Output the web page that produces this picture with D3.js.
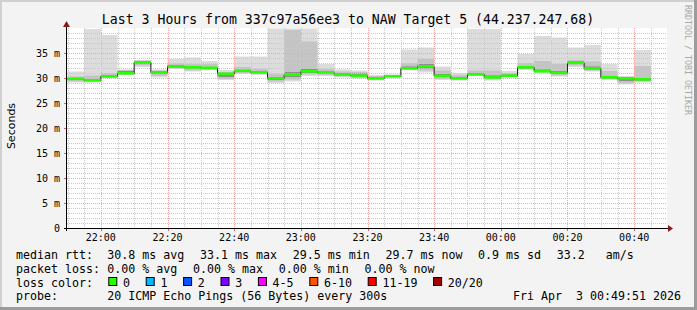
<!DOCTYPE html>
<html>
<head>
<meta charset="utf-8">
<script src="https://cdn.jsdelivr.net/npm/d3@7"></script>
<style>
  html, body { margin: 0; padding: 0; background: #f3f3f3; }
  svg { display: block; }
  svg text { white-space: pre; }
</style>
</head>
<body>
<div id="chart"></div>
<script>
// ===== Data (ms), one value per 5 minute step starting 21:50 =====
const medianMs = [29.8, 29.5, 30.3, 30.9, 33.1, 31.1, 32.3, 32.1, 32.0, 30.8, 31.4, 31.1, 29.9, 30.6, 31.3, 31.1, 30.7, 30.4,
  29.9, 30.3, 31.9, 32.3, 30.4, 29.9, 30.7, 30.1, 30.4, 32.1, 31.3, 31.0, 33.0, 31.9, 30.1, 29.9, 29.7];
const minMs = [29.1, 29.1, 30.0, 30.6, 32.2, 30.1, 31.8, 31.3, 31.6, 29.6, 30.8, 30.6, 29.0, 29.3, 30.4, 30.4, 30.1, 29.9,
  29.5, 30.1, 31.6, 31.1, 29.6, 29.5, 30.4, 29.5, 30.2, 31.6, 31.1, 30.3, 32.2, 31.3, 29.6, 28.7, 29.1];
const loMs = [29.3, 29.3, 30.1, 30.7, 32.5, 30.4, 32.0, 31.5, 31.7, 29.8, 31.0, 30.8, 29.3, 29.7, 30.7, 30.6, 30.3, 30.1,
  29.6, 30.2, 31.8, 31.5, 29.9, 29.7, 30.5, 29.7, 30.3, 31.8, 31.2, 30.5, 32.5, 31.5, 29.8, 29.0, 29.3];
const darkLoMs = [29.6, 29.4, 30.2, 30.8, 32.8, 30.8, 32.1, 31.9, 31.9, 30.2, 31.2, 31.0, 29.6, 30.2, 31.0, 30.9, 30.5, 30.3,
  29.8, 30.25, 31.9, 31.9, 30.2, 29.8, 30.6, 29.9, 30.35, 31.9, 31.25, 30.8, 32.8, 31.7, 29.9, 29.4, 29.5];
const darkHiMs = [30.0, 29.8, 30.5, 31.4, 33.3, 31.3, 32.5, 32.4, 32.2, 30.9, 31.6, 31.4, 30.2, 31.2, 31.8, 31.3, 30.9, 30.9,
  30.2, 30.45, 32.3, 32.8, 30.8, 30.2, 31.0, 30.5, 30.7, 32.4, 31.7, 31.4, 33.3, 32.3, 30.4, 30.1, 30.0];
const hiMs = [30.3, 30.5, 31.0, 31.6, 33.5, 31.5, 32.9, 32.8, 32.8, 31.2, 32.2, 31.8, 30.8, 39.6, 37.3, 31.8, 31.3, 31.2,
  30.4, 30.6, 33.0, 33.8, 31.5, 30.6, 31.5, 31.5, 31.0, 33.0, 33.4, 32.8, 33.6, 33.3, 31.4, 30.2, 32.4];
const maxMs = [31.3, 39.8, 38.6, 31.7, 33.6, 31.7, 33.8, 34.1, 33.4, 31.6, 34.3, 34.3, 39.9, 39.9, 39.9, 32.8, 31.7, 31.5,
  30.6, 30.7, 35.7, 36.1, 32.3, 31.0, 39.8, 39.8, 31.4, 34.8, 38.4, 38.1, 36.1, 36.6, 32.8, 30.4, 35.6];

const yTicks = [0, 5, 10, 15, 20, 25, 30, 35];
const lossLabels = ["0", "1", "2", "3", "4-5", "6-10", "11-19", "20/20"];
const lossColors = ["#26ff00", "#00b8ff", "#0059ff", "#7e00ff", "#ff00ff", "#ff5500", "#ff0000", "#a10000"];
const rttItems = ["30.8 ms avg", "33.1 ms max", "29.5 ms min", "29.7 ms now", "0.9 ms sd", "33.2   am/s"];
const lossItems = ["0.00 % avg", "0.00 % max", "0.00 % min", "0.00 % now"];

(function() {
  const width = 697, height = 310;
  const left = 67, right = 667, top = 28, bottom = 228;
  const mono = "DejaVu Sans Mono";

  const tStart = new Date("2026-04-02T21:49:51Z");
  const tEnd = new Date("2026-04-03T00:49:51Z");
  const firstStep = new Date("2026-04-02T21:50:00Z");
  const steps = medianMs.map((m, i) => ({
    t0: d3.utcMinute.offset(firstStep, 5 * i),
    t1: d3.utcMinute.offset(firstStep, 5 * (i + 1)),
    med: m, min: minMs[i], lo: loMs[i], dlo: darkLoMs[i], dhi: darkHiMs[i], hi: hiMs[i], max: maxMs[i]
  }));

  const x = d3.scaleUtc().domain([tStart, tEnd]).range([left, right]);
  const y = d3.scaleLinear().domain([0, 40]).range([bottom, top]);

  const svg = d3.select("#chart").append("svg")
    .attr("width", width).attr("height", height);

  // frame
  svg.append("rect").attr("width", width).attr("height", height).attr("fill", "#f3f3f3");
  svg.append("rect").attr("x", 0).attr("y", 0).attr("width", width).attr("height", 2).attr("fill", "#d0d0d0");
  svg.append("rect").attr("x", 0).attr("y", 0).attr("width", 2).attr("height", height).attr("fill", "#d0d0d0");
  svg.append("rect").attr("x", width - 3).attr("y", 0).attr("width", 3).attr("height", height).attr("fill", "#9c9c9c");
  svg.append("rect").attr("x", 0).attr("y", height - 3).attr("width", width).attr("height", 3).attr("fill", "#9c9c9c");

  svg.append("rect")
    .attr("x", left).attr("y", top)
    .attr("width", right - left).attr("height", bottom - top)
    .attr("fill", "#fff");

  // ===== smoke =====
  const bands = [
    { a: "min", b: "max", fill: "#dcdcdc" },
    { a: "lo", b: "hi", fill: "#c4c4c4" },
    { a: "dlo", b: "dhi", fill: "#8e8e8e" },
  ];
  bands.forEach(band => {
    svg.append("g").selectAll("rect")
      .data(steps)
      .join("rect")
      .attr("x", d => x(d.t0))
      .attr("width", d => x(d.t1) - x(d.t0))
      .attr("y", d => y(d[band.b]))
      .attr("height", d => y(d[band.a]) - y(d[band.b]))
      .attr("fill", band.fill);
  });

  // ===== grid =====
  const grid = svg.append("g").attr("shape-rendering", "crispEdges");
  const minorY = d3.range(1, 40).filter(v => v % 5 !== 0);
  grid.selectAll("line.ymin")
    .data(minorY)
    .join("line")
    .attr("x1", left).attr("x2", right)
    .attr("y1", d => Math.round(y(d)) + 0.5).attr("y2", d => Math.round(y(d)) + 0.5)
    .attr("stroke", "#c8c8c8").attr("stroke-dasharray", "1,1");
  const minorX = d3.utcMinute.every(5).range(tStart, tEnd).filter(d => d.getUTCMinutes() % 20 !== 0);
  grid.selectAll("line.xmin")
    .data(minorX)
    .join("line")
    .attr("x1", d => Math.round(x(d)) + 0.5).attr("x2", d => Math.round(x(d)) + 0.5)
    .attr("y1", top).attr("y2", bottom)
    .attr("stroke", "#c8c8c8").attr("stroke-dasharray", "1,1");
  grid.selectAll("line.ymaj")
    .data(yTicks.filter(v => v > 0))
    .join("line")
    .attr("x1", left).attr("x2", right)
    .attr("y1", d => Math.round(y(d)) + 0.5).attr("y2", d => Math.round(y(d)) + 0.5)
    .attr("stroke", "#f4a8a8").attr("stroke-dasharray", "1,1");
  const majorX = d3.utcMinute.every(20).range(tStart, tEnd);
  grid.selectAll("line.xmaj")
    .data(majorX)
    .join("line")
    .attr("x1", d => Math.round(x(d)) + 0.5).attr("x2", d => Math.round(x(d)) + 0.5)
    .attr("y1", top).attr("y2", bottom)
    .attr("stroke", "#f4a8a8").attr("stroke-dasharray", "1,1");

  // ===== median =====
  const stepLine = d3.line()
    .x(d => d[0]).y(d => d[1])
    .curve(d3.curveStepAfter);
  const pts = steps.map(d => [x(d.t0), y(d.med)]);
  pts.push([x(steps[steps.length - 1].t1), y(steps[steps.length - 1].med)]);
  svg.append("path")
    .attr("d", stepLine(pts))
    .attr("fill", "none")
    .attr("stroke", "#202020")
    .attr("stroke-width", 1);
  svg.append("g").selectAll("rect")
    .data(steps)
    .join("rect")
    .attr("x", d => x(d.t0))
    .attr("width", d => x(d.t1) - x(d.t0))
    .attr("y", d => y(d.med) - 1.5)
    .attr("height", 2.6)
    .attr("fill", lossColors[0]);

  // ===== axes =====
  const axes = svg.append("g").attr("shape-rendering", "crispEdges");
  axes.selectAll("line.ytick")
    .data(yTicks)
    .join("line")
    .attr("x1", left - 3).attr("x2", left)
    .attr("y1", d => Math.round(y(d)) + 0.5).attr("y2", d => Math.round(y(d)) + 0.5)
    .attr("stroke", "#e06060");
  axes.selectAll("line.xtick")
    .data(majorX)
    .join("line")
    .attr("x1", d => Math.round(x(d)) + 0.5).attr("x2", d => Math.round(x(d)) + 0.5)
    .attr("y1", bottom).attr("y2", bottom + 3)
    .attr("stroke", "#e06060");
  axes.append("line")
    .attr("x1", left - 3).attr("x2", right + 2)
    .attr("y1", bottom + 0.5).attr("y2", bottom + 0.5)
    .attr("stroke", "#000");
  axes.append("line")
    .attr("x1", left - 0.5).attr("x2", left - 0.5)
    .attr("y1", bottom + 3).attr("y2", top - 2)
    .attr("stroke", "#000");
  svg.append("path")
    .attr("d", `M${right + 1},${bottom - 3}L${right + 6},${bottom + 0.5}L${right + 1},${bottom + 4}Z`)
    .attr("fill", "#8b1a1a");
  svg.append("path")
    .attr("d", `M${left - 4},${top - 1}L${left - 0.5},${top - 7}L${left + 3},${top - 1}Z`)
    .attr("fill", "#8b1a1a");

  svg.append("g").selectAll("text")
    .data(yTicks)
    .join("text")
    .attr("x", 60)
    .attr("y", d => y(d) + 3.5)
    .attr("text-anchor", "end")
    .attr("font-family", mono).attr("font-size", 10)
    .attr("fill", "#000")
    .text(d => d === 0 ? "0" : `${d} m`);

  svg.append("g").selectAll("text")
    .data(majorX)
    .join("text")
    .attr("x", d => x(d))
    .attr("y", 241)
    .attr("text-anchor", "middle")
    .attr("font-family", mono).attr("font-size", 10)
    .attr("fill", "#000")
    .text(d3.utcFormat("%H:%M"));

  // ===== titles =====
  svg.append("text")
    .attr("x", 348).attr("y", 24)
    .attr("text-anchor", "middle")
    .attr("font-family", mono).attr("font-size", 13.2)
    .attr("fill", "#000")
    .text("Last 3 Hours from 337c97a56ee3 to NAW Target 5 (44.237.247.68)");

  svg.append("text")
    .attr("transform", "translate(14.5,126) rotate(-90)")
    .attr("text-anchor", "middle")
    .attr("font-family", "DejaVu Sans").attr("font-size", 11)
    .attr("fill", "#000")
    .text("Seconds");

  svg.append("text")
    .attr("transform", "translate(685,5) rotate(90)")
    .attr("font-family", mono).attr("font-size", 8.3)
    .attr("fill", "#a8a8a8")
    .text("RRDTOOL / TOBI OETIKER");

  // ===== legend =====
  const lg = svg.append("g")
    .attr("font-family", mono).attr("font-size", 11.63)
    .attr("fill", "#000");
  const col0 = 16, col1 = 107.3, gap = 15.7;

  function flow(items, yy) {
    let cx = col1;
    items.forEach(s => {
      const t = lg.append("text").attr("x", cx).attr("y", yy).text(s);
      cx += t.node().getComputedTextLength() + gap;
    });
  }

  lg.append("text").attr("x", col0).attr("y", 258.5).text("median rtt:");
  flow(rttItems, 258.5);
  lg.append("text").attr("x", col0).attr("y", 272.5).text("packet loss:");
  flow(lossItems, 272.5);
  lg.append("text").attr("x", col0).attr("y", 286.5).text("loss color:");

  let bx = col1 + 1;
  lossLabels.forEach((lab, i) => {
    lg.append("rect")
      .attr("x", bx + 0.5).attr("y", 277.5)
      .attr("width", 8).attr("height", 8)
      .attr("fill", lossColors[i])
      .attr("stroke", "#000").attr("stroke-width", 1);
    const t = lg.append("text").attr("x", bx + 14.7).attr("y", 286.5).text(lab);
    bx = bx + 14.7 + t.node().getComputedTextLength() + gap;
  });

  lg.append("text").attr("x", col0).attr("y", 300).text("probe:");
  lg.append("text").attr("x", col1).attr("y", 300).text("20 ICMP Echo Pings (56 Bytes) every 300s");
  lg.append("text").attr("x", 681).attr("y", 300).attr("text-anchor", "end").text("Fri Apr  3 00:49:51 2026");
})();
</script>
</body>
</html>
